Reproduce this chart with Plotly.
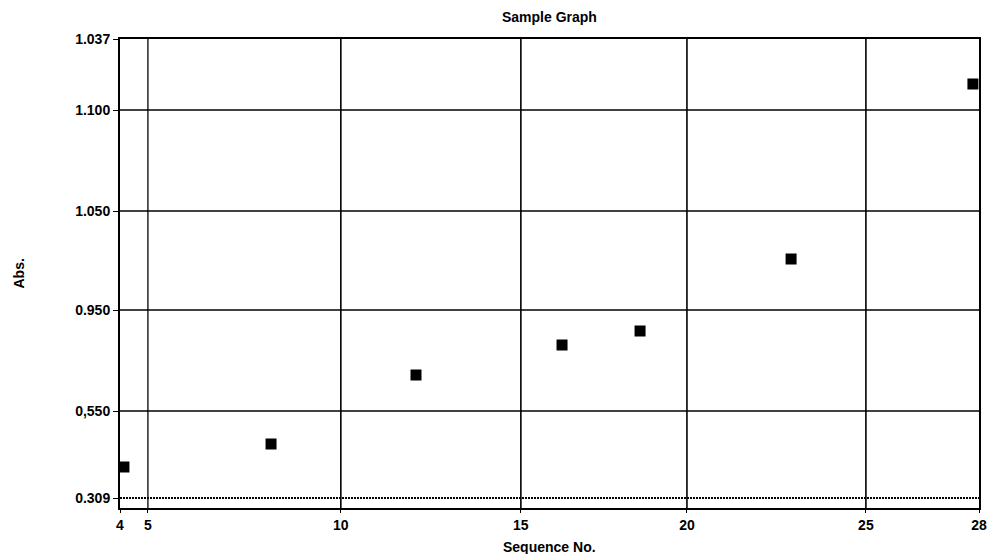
import plotly.graph_objects as go

# Axis positions are in the chart's own (visual) units
x_tick_labels = ["4", "5", "10", "15", "20", "25", "28"]
x_tick_pos = [4.0, 4.78, 10.17, 15.20, 19.84, 24.84, 28.0]

y_tick_labels = ["0.309", "0,550", "0.950", "1.050", "1.100", "1.037"]
y_tick_pos = [0.10, 0.97, 1.98, 2.97, 3.98, 4.69]

# Sample points (sequence position, absorbance position)
seq_x = [4.11, 8.22, 12.27, 16.35, 18.53, 22.75, 27.83]
abs_y = [0.41, 0.64, 1.33, 1.63, 1.77, 2.49, 4.24]

FONT = "Liberation Sans, Arial, sans-serif"
FS = 14

fig = go.Figure()
fig.add_trace(go.Scatter(
    x=seq_x, y=abs_y, mode="markers",
    marker=dict(symbol="square", size=11, color="black", line=dict(width=0)),
    cliponaxis=False, showlegend=False, hoverinfo="skip",
))

shapes = []
# vertical grid lines (inner ticks only)
for i, xv in enumerate(x_tick_pos[1:-1]):
    shapes.append(dict(type="line", xref="x", yref="paper", x0=xv, x1=xv, y0=0, y1=1,
                       line=dict(color="black", width=1.3 if i == 0 else 1.6,
                                 dash="solid"), layer="below"))
# horizontal grid lines
for lbl, yv in zip(y_tick_labels[:-1], y_tick_pos[:-1]):
    dotted = lbl == "0.309"
    shapes.append(dict(type="line", xref="paper", yref="y", x0=0, x1=1, y0=yv, y1=yv,
                       line=dict(color="black", width=2 if dotted else 1.4,
                                 dash="2px,1px" if dotted else "solid"), layer="below"))

fig.update_layout(
    width=987, height=554, autosize=False,
    margin=dict(l=120, r=8, t=39, b=46),
    paper_bgcolor="white", plot_bgcolor="white",
    font=dict(family=FONT, size=FS, color="black"),
    shapes=shapes,
    showlegend=False,
)
fig.add_annotation(text="<b>Sample Graph</b>", xref="paper", yref="paper", x=0.5, y=1.0,
                   yanchor="bottom", yshift=12, showarrow=False, font=dict(size=FS))
fig.add_annotation(text="<b>Sequence No.</b>", xref="paper", yref="paper", x=0.5, y=0,
                   yanchor="top", yshift=-29, showarrow=False, font=dict(size=FS))
fig.add_annotation(text="<b>Abs.</b>", xref="paper", yref="paper", x=0, y=0.5,
                   xanchor="center", xshift=-102, textangle=-90, showarrow=False,
                   font=dict(size=FS))

fig.update_xaxes(
    range=[4, 28], tickmode="array", tickvals=x_tick_pos,
    ticktext=[f"<b>{t}</b>" for t in x_tick_labels],
    showgrid=False, zeroline=False, automargin=False,
    showline=True, linecolor="black", linewidth=2, mirror=True,
    ticks="outside", ticklen=3, tickcolor="black",
)
fig.update_yaxes(
    range=[0, 4.69], tickmode="array", tickvals=y_tick_pos,
    ticktext=[f"<b>{t}</b>" for t in y_tick_labels],
    showgrid=False, zeroline=False, automargin=False,
    showline=True, linecolor="black", linewidth=2, mirror=True,
    ticks="outside", ticklen=5, tickcolor="black",
)

post = ("document.body.style.margin='0';"
        "document.body.style.overflow='hidden';")
fig.write_html("out.html", post_script=post,
               config={"displayModeBar": False})
